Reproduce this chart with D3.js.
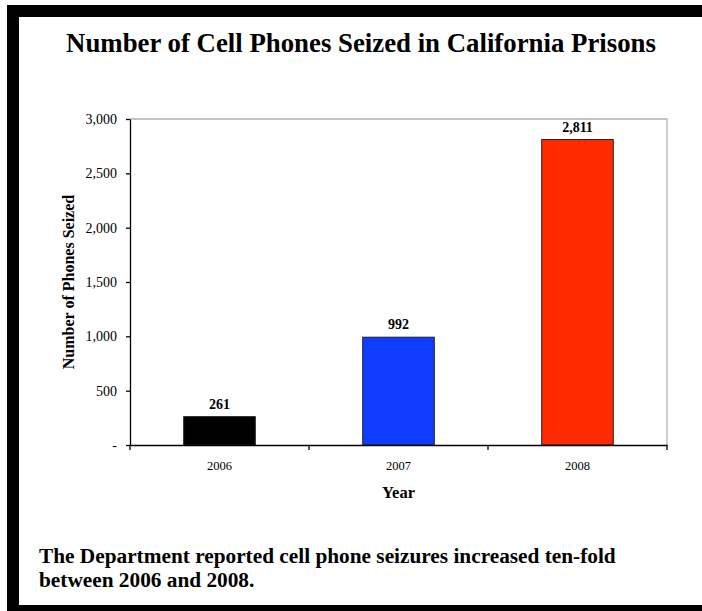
<!DOCTYPE html>
<html>
<head>
<meta charset="utf-8">
<script src="https://cdn.jsdelivr.net/npm/d3@7"></script>
<style>
  body { margin: 0; background: #fff; overflow: hidden; }
  svg { display: block; font-family: "Liberation Serif", "Times New Roman", serif; }
</style>
</head>
<body>
<div id="chart"></div>
<script>
const years = ["2006", "2007", "2008"];
const phonesSeized = [261, 992, 2811];
const barColors = ["#000000", "#0f3cff", "#ff2b00"];
const yTicks = [0, 500, 1000, 1500, 2000, 2500, 3000];

const W = 702, H = 611;
const PLOT = { LEFT: 130, RIGHT: 667, TOP: 119, BOTTOM: 445 };

const svg = d3.select("#chart")
  .append("svg")
  .attr("width", W)
  .attr("height", H);

// frame
svg.append("rect").attr("x", 7).attr("y", 5).attr("width", W - 7).attr("height", 12).attr("fill", "#000");
svg.append("rect").attr("x", 7).attr("y", 5).attr("width", 12).attr("height", H - 5).attr("fill", "#000");
svg.append("rect").attr("x", 7).attr("y", 605).attr("width", W - 7).attr("height", 6).attr("fill", "#000");

svg.append("text")
  .attr("x", 361)
  .attr("y", 52)
  .attr("text-anchor", "middle")
  .attr("font-size", 26.8)
  .attr("font-weight", "bold")
  .text("Number of Cell Phones Seized in California Prisons");

const x = d3.scaleBand()
  .domain(years)
  .range([PLOT.LEFT, PLOT.RIGHT]);

const y = d3.scaleLinear()
  .domain([0, 3000])
  .range([PLOT.BOTTOM, PLOT.TOP]);

// plot area border (top / right)
svg.append("path")
  .attr("d", `M${PLOT.LEFT},${PLOT.TOP}H${PLOT.RIGHT}V${PLOT.BOTTOM}`)
  .attr("fill", "none")
  .attr("stroke", "#b3b3b3")
  .attr("stroke-width", 1.3);

// bars
const barW = x.bandwidth() * 0.4;
svg.selectAll("rect.bar")
  .data(years)
  .enter()
  .append("rect")
  .attr("class", "bar")
  .attr("x", (d) => x(d) + (x.bandwidth() - barW) / 2)
  .attr("y", (d, i) => y(phonesSeized[i]))
  .attr("width", barW)
  .attr("height", (d, i) => PLOT.BOTTOM - y(phonesSeized[i]))
  .attr("fill", (d, i) => barColors[i])
  .attr("stroke", "#222")
  .attr("stroke-width", 1);

svg.selectAll("text.val")
  .data(years)
  .enter()
  .append("text")
  .attr("class", "val")
  .attr("x", (d) => x(d) + x.bandwidth() / 2)
  .attr("y", (d, i) => y(phonesSeized[i]) - 8)
  .attr("text-anchor", "middle")
  .attr("font-size", 14)
  .attr("font-weight", "bold")
  .text((d, i) => d3.format(",")(phonesSeized[i]));

// y axis
const yAxis = svg.append("g")
  .attr("transform", `translate(${PLOT.LEFT},0)`)
  .call(
    d3.axisLeft(y)
      .tickValues(yTicks)
      .tickSize(4)
      .tickSizeOuter(0)
      .tickPadding(9)
      .tickFormat((d) => (d === 0 ? "-" : d3.format(",")(d)))
  );
yAxis.attr("font-family", null).attr("font-size", null);
yAxis.selectAll("text").attr("font-size", 14).attr("fill", "#000");
yAxis.selectAll("line, path").attr("stroke", "#000").attr("stroke-width", 1.3);

// x axis
const xAxis = svg.append("g")
  .attr("transform", `translate(0,${PLOT.BOTTOM})`)
  .call(d3.axisBottom(x).tickSize(0).tickSizeOuter(0));
xAxis.attr("font-family", null).attr("font-size", null);
xAxis.selectAll("text")
  .attr("y", 25)
  .attr("dy", 0)
  .attr("font-size", 12.5)
  .attr("fill", "#000");
xAxis.select("path").attr("stroke", "#000").attr("stroke-width", 1.3);
xAxis.selectAll("line.bound")
  .data(years.map((d) => x(d)).concat([x.range()[1]]))
  .enter()
  .append("line")
  .attr("class", "bound")
  .attr("x1", (d) => d)
  .attr("x2", (d) => d)
  .attr("y1", 0)
  .attr("y2", 5)
  .attr("stroke", "#000")
  .attr("stroke-width", 1.3);

svg.append("text")
  .attr("x", (PLOT.LEFT + PLOT.RIGHT) / 2)
  .attr("y", 498)
  .attr("text-anchor", "middle")
  .attr("font-size", 16.5)
  .attr("font-weight", "bold")
  .text("Year");

svg.append("text")
  .attr("transform", `translate(74,${(PLOT.TOP + PLOT.BOTTOM) / 2}) rotate(-90)`)
  .attr("text-anchor", "middle")
  .attr("font-size", 16)
  .attr("font-weight", "bold")
  .text("Number of Phones Seized");

const note = svg.append("text")
  .attr("x", 39)
  .attr("font-size", 21.3)
  .attr("font-weight", "bold");
note.append("tspan").attr("x", 39).attr("y", 563).text("The Department reported cell phone seizures increased ten-fold");
note.append("tspan").attr("x", 39).attr("y", 587).text("between 2006 and 2008.");
</script>
</body>
</html>
